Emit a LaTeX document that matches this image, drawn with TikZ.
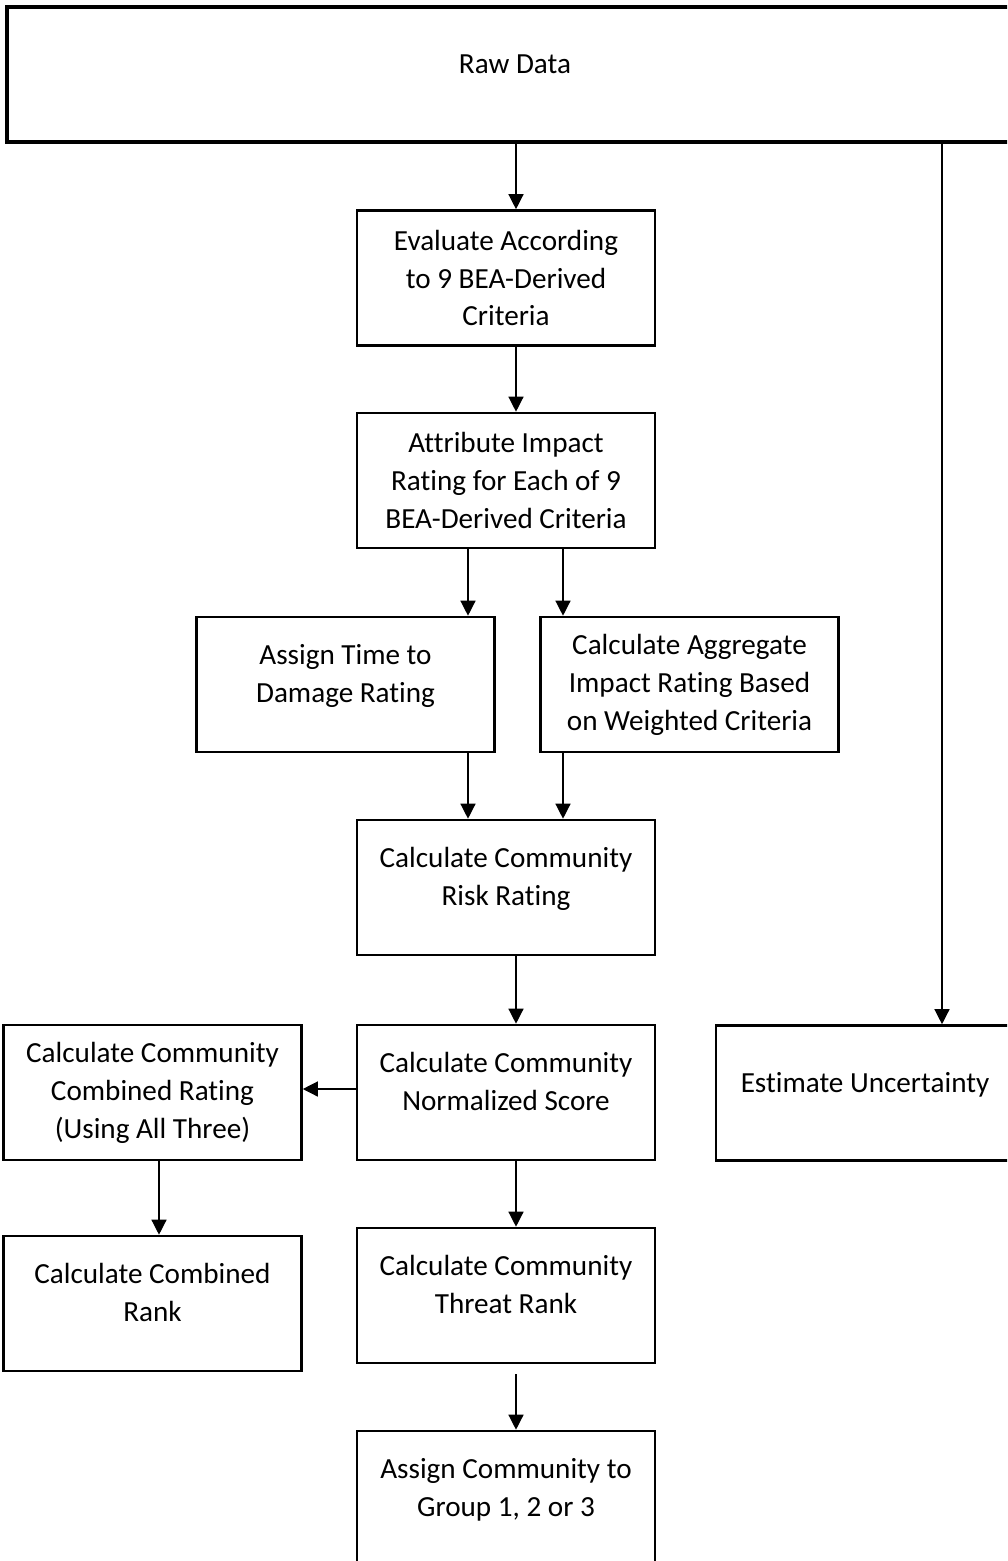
\documentclass[tikz,border=0pt]{standalone}
\usepackage{fontspec}
\setmainfont{Carlito}[Ligatures={NoCommon}]
\usetikzlibrary{arrows.meta}
\tikzset{
  stage/.style={draw=black, line width=1.5pt, minimum width=5.96cm, minimum height=2.7cm, inner sep=0pt, align=center, font=\fontsize{16.6}{21.6}\selectfont},
  raised/.style={execute at end node={\rule[-12.8pt]{0pt}{24.8pt}}},
  flow/.style={-{Triangle[length=0.3cm,width=0.3cm]}, line width=0.75pt}
}

\begin{document}
\begin{tikzpicture}[x=0.02cm, y=-0.02cm]
  \path[use as bounding box, clip] (0,0) rectangle (1007,1561);
  % arrow columns
  \coordinate (mid) at (516,0);
  \coordinate (lft) at (468,0);
  \coordinate (rgt) at (563,0);
  \coordinate (side) at (942,0);
  \coordinate (cmb) at (159,0);
  \coordinate (row) at (0,1089);
  % Input
  \node[stage, raised, line width=2pt, minimum width=20.32cm] (raw) at (515,74.5) {Raw Data};
  % Main column
  \node[stage] (eval) at (506,278) {Evaluate According\\to 9 BEA-Derived\\Criteria};
  \node[stage] (attr) at (506,480.5) {Attribute Impact\\Rating for Each of 9\\BEA-Derived Criteria};
  \node[stage, raised] (time) at (345.5,684.5) {Assign Time to\\Damage Rating};
  \node[stage] (aggr) at (689.5,684.5) {Calculate Aggregate\\Impact Rating Based\\on Weighted Criteria};
  \node[stage, raised] (risk) at (506,887.5) {Calculate Community\\Risk Rating};
  \node[stage, raised] (norm) at (506,1092.5) {Calculate Community\\Normalized Score};
  \node[stage, raised] (threat) at (506,1295.5) {Calculate Community\\Threat Rank};
  \node[stage, raised] (group) at (506,1498.5) {Assign Community to\\Group 1, 2 or 3};
  % Left branch
  \node[stage] (comb) at (152.5,1092.5) {Calculate Community\\Combined Rating\\(Using All Three)};
  \node[stage, raised] (crank) at (152.5,1303.5) {Calculate Combined\\Rank};
  % Right branch
  \node[stage, raised] (unc) at (865,1093) {Estimate Uncertainty};
  % Connectors
  \draw[flow] (raw.south -| mid) -- (eval.north -| mid);
  \draw[flow] (raw.south -| side) -- (unc.north -| side);
  \draw[flow] (eval.south -| mid) -- (attr.north -| mid);
  \draw[flow] (attr.south -| lft) -- (time.north -| lft);
  \draw[flow] (attr.south -| rgt) -- (aggr.north -| rgt);
  \draw[flow] (time.south -| lft) -- (risk.north -| lft);
  \draw[flow] (aggr.south -| rgt) -- (risk.north -| rgt);
  \draw[flow] (risk.south -| mid) -- (norm.north -| mid);
  \draw[flow] (norm.west |- row) -- (comb.east |- row);
  \draw[flow] (comb.south -| cmb) -- (crank.north -| cmb);
  \draw[flow] (norm.south -| mid) -- (threat.north -| mid);
  \draw[flow] ([yshift=-0.2cm]threat.south -| mid) -- (group.north -| mid);
\end{tikzpicture}
\end{document}
